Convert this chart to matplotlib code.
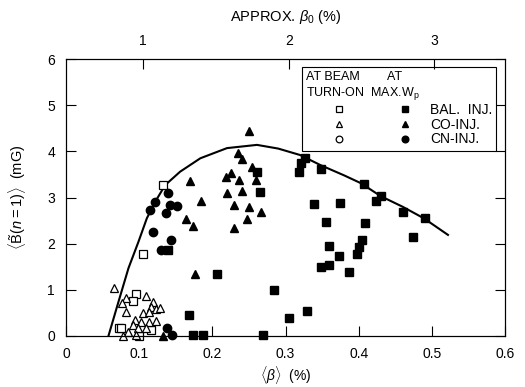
import numpy as np
import matplotlib
matplotlib.use('Agg')
import matplotlib.pyplot as plt
from matplotlib.legend_handler import HandlerTuple

plt.rcParams['font.family'] = ['Liberation Sans', 'DejaVu Sans']
plt.rcParams['mathtext.fontset'] = 'custom'
plt.rcParams['mathtext.rm'] = 'Liberation Sans'
plt.rcParams['mathtext.it'] = 'Liberation Sans:italic'

# fitted envelope curve
beta_fit = [0.058, 0.0717, 0.0854, 0.099, 0.1105, 0.122, 0.1356, 0.156, 0.1836, 0.220,
            0.261, 0.290, 0.320, 0.348, 0.380, 0.403, 0.430, 0.460, 0.489, 0.522]
b_fit = [0.0, 0.74, 1.47, 2.04, 2.55, 2.91, 3.27, 3.56, 3.85, 4.07,
         4.14, 4.06, 3.92, 3.70, 3.48, 3.31, 3.03, 2.80, 2.55, 2.19]

# at beam turn-on
bal_on_x = [0.095, 0.091, 0.073, 0.100, 0.116, 0.105, 0.133, 0.075]
bal_on_y = [0.92, 0.76, 0.17, 0.00, 0.14, 1.78, 3.27, 0.17]
co_on_x = [0.066, 0.082, 0.109, 0.077, 0.082, 0.119, 0.116, 0.123, 0.128, 0.105,
           0.114, 0.094, 0.103, 0.114, 0.123, 0.091, 0.085, 0.098, 0.110, 0.078, 0.096]
co_on_y = [1.03, 0.82, 0.87, 0.71, 0.53, 0.74, 0.63, 0.58, 0.60, 0.49,
           0.53, 0.35, 0.31, 0.31, 0.32, 0.24, 0.09, 0.17, 0.17, 0.00, 0.02]

# at max Wp
bal_x = [0.140, 0.265, 0.261, 0.206, 0.284, 0.168, 0.174, 0.187, 0.269, 0.305, 0.329,
         0.326, 0.321, 0.319, 0.349, 0.407, 0.430, 0.423, 0.339, 0.375, 0.356, 0.408,
         0.405, 0.400, 0.360, 0.397, 0.373, 0.359, 0.348, 0.387, 0.461, 0.490, 0.474]
bal_y = [1.86, 3.13, 3.56, 1.34, 1.00, 0.45, 0.02, 0.02, 0.02, 0.40, 0.55,
         3.85, 3.74, 3.55, 3.62, 3.29, 3.04, 2.92, 2.87, 2.89, 2.46, 2.45,
         2.08, 1.93, 1.96, 1.77, 1.74, 1.54, 1.49, 1.39, 2.69, 2.55, 2.14]
co_x = [0.250, 0.235, 0.241, 0.254, 0.226, 0.218, 0.236, 0.259, 0.169, 0.220, 0.240,
        0.184, 0.230, 0.250, 0.267, 0.247, 0.164, 0.173, 0.229, 0.176, 0.132]
co_y = [4.45, 3.96, 3.83, 3.67, 3.54, 3.44, 3.38, 3.39, 3.36, 3.09, 3.15,
        2.93, 2.84, 2.79, 2.69, 2.53, 2.53, 2.38, 2.33, 1.34, 0.00]
cn_x = [0.140, 0.121, 0.142, 0.152, 0.115, 0.136, 0.119, 0.144, 0.130, 0.138, 0.145]
cn_y = [3.09, 2.91, 2.84, 2.82, 2.73, 2.66, 2.25, 2.08, 1.86, 0.17, 0.02]

fig = plt.figure(figsize=(5.25, 3.87), dpi=100)
ax = fig.add_axes([0.1257, 0.1318, 0.8363, 0.7157])

ax.plot(beta_fit, b_fit, color='black', lw=1.5, zorder=2)

ms = 6
o_bal, = ax.plot(bal_on_x, bal_on_y, 's', mfc='white', mec='black', mew=0.9, ms=ms, clip_on=False, ls='none')
o_co, = ax.plot(co_on_x, co_on_y, '^', mfc='white', mec='black', mew=0.9, ms=ms, clip_on=False, ls='none')
o_cn, = ax.plot([], [], 'o', mfc='white', mec='black', mew=0.9, ms=ms, ls='none')
f_bal, = ax.plot(bal_x, bal_y, 's', color='black', ms=ms, clip_on=False, ls='none')
f_co, = ax.plot(co_x, co_y, '^', color='black', ms=ms, clip_on=False, ls='none')
f_cn, = ax.plot(cn_x, cn_y, 'o', color='black', ms=ms, clip_on=False, ls='none')

ax.set_xlim(0, 0.6)
ax.set_ylim(0, 6)
ax.set_xticks(np.arange(0, 0.61, 0.1))
ax.set_xticklabels(['0', '0.1', '0.2', '0.3', '0.4', '0.5', '0.6'])
ax.set_yticks(range(0, 7))
ax.tick_params(direction='in', length=7, width=0.8, labelsize=10, right=True, top=False, pad=8)
ax.set_xlabel(r'$\langle\beta\rangle$  (%)', fontsize=10, labelpad=2)
ax.set_ylabel(r'$\langle\tilde{\mathrm{B}}(n = 1)\rangle$  (mG)', fontsize=10.5, labelpad=14)
for s in ax.spines.values():
    s.set_linewidth(0.8)

ax2 = ax.twiny()
ax2.set_xlim(0.469, 3.487)
ax2.set_xticks([1, 2, 3])
ax2.tick_params(direction='in', length=7, width=0.8, labelsize=10, pad=8)
ax2.set_xlabel(r'APPROX. $\beta_0$ (%)', fontsize=10.5, labelpad=9)

leg = ax.legend([(o_bal, f_bal), (o_co, f_co), (o_cn, f_cn)],
                ['BAL.  INJ.', 'CO-INJ.', 'CN-INJ.'],
                handler_map={tuple: HandlerTuple(ndivide=None, pad=0.0)},
                title='AT BEAM        AT\nTURN-ON  MAX.W$_\\mathrm{p}$',
                alignment='left', loc='upper right', bbox_to_anchor=(0.98, 0.971),
                borderaxespad=0, fontsize=10, title_fontsize=9, handlelength=9.5,
                handletextpad=-0.6, labelspacing=0.05, borderpad=0.3, fancybox=False,
                edgecolor='black', framealpha=1, markerscale=0.8)
leg.get_frame().set_linewidth(0.8)

fig.savefig('out.png', dpi=100)
